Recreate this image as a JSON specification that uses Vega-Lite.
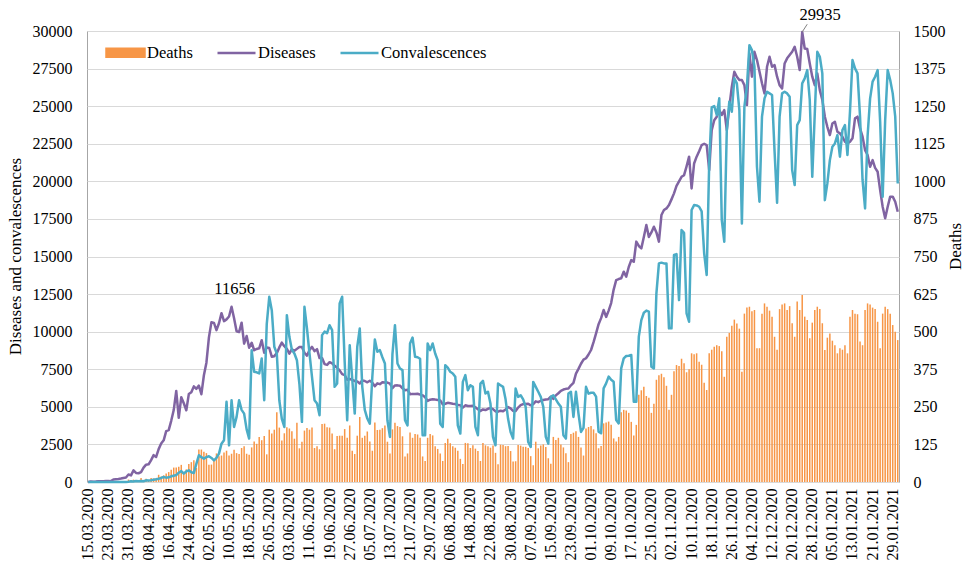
{
"$schema": "https://vega.github.io/schema/vega-lite/v6.json",
"width": 812, "height": 451,
"autosize": {"type": "none"},
"padding": {"left": 87, "top": 31, "right": 65, "bottom": 87},
"background": "white",
"config": {
 "view": {"stroke": "#a6a6a6", "strokeWidth": 1},
 "font": "Liberation Serif",
 "axis": {"labelFont": "Liberation Serif", "labelFontSize": 16, "labelColor": "#000", "titleFont": "Liberation Serif", "titleFontSize": 17, "titleFontWeight": "normal", "titleColor": "#000", "ticks": false, "tickSize": 0, "domain": false}
},
"data": {"values": [
{"d":"15.03.2020","dis":4,"con":0,"dea":0},{"d":"16.03.2020","dis":30,"con":0,"dea":0},{"d":"17.03.2020","dis":21,"con":0,"dea":0},{"d":"18.03.2020","dis":33,"con":0,"dea":0},{"d":"19.03.2020","dis":52,"con":1,"dea":1},{"d":"20.03.2020","dis":54,"con":2,"dea":0},{"d":"21.03.2020","dis":53,"con":3,"dea":0},{"d":"22.03.2020","dis":61,"con":1,"dea":0},{"d":"23.03.2020","dis":71,"con":2,"dea":0},{"d":"24.03.2020","dis":57,"con":5,"dea":1},{"d":"25.03.2020","dis":163,"con":2,"dea":0},{"d":"26.03.2020","dis":182,"con":8,"dea":1},{"d":"27.03.2020","dis":196,"con":3,"dea":1},{"d":"28.03.2020","dis":228,"con":5,"dea":0},{"d":"29.03.2020","dis":270,"con":8,"dea":1},{"d":"30.03.2020","dis":302,"con":8,"dea":1},{"d":"31.03.2020","dis":501,"con":22,"dea":8},
{"d":"01.04.2020","dis":440,"con":45,"dea":7},{"d":"02.04.2020","dis":771,"con":30,"dea":8},{"d":"03.04.2020","dis":601,"con":60,"dea":2},{"d":"04.04.2020","dis":582,"con":45,"dea":4},{"d":"05.04.2020","dis":658,"con":65,"dea":13},{"d":"06.04.2020","dis":954,"con":50,"dea":2},{"d":"07.04.2020","dis":1154,"con":110,"dea":11},{"d":"08.04.2020","dis":1175,"con":95,"dea":5},{"d":"09.04.2020","dis":1459,"con":120,"dea":13},{"d":"10.04.2020","dis":1786,"con":150,"dea":12},{"d":"11.04.2020","dis":1667,"con":180,"dea":12},{"d":"12.04.2020","dis":2186,"con":220,"dea":24},{"d":"13.04.2020","dis":2558,"con":270,"dea":18},{"d":"14.04.2020","dis":2774,"con":330,"dea":22},{"d":"15.04.2020","dis":3388,"con":290,"dea":28},{"d":"16.04.2020","dis":3448,"con":310,"dea":33},{"d":"17.04.2020","dis":4070,"con":380,"dea":41},{"d":"18.04.2020","dis":4785,"con":420,"dea":48},{"d":"19.04.2020","dis":6060,"con":460,"dea":48},{"d":"20.04.2020","dis":4268,"con":620,"dea":51},{"d":"21.04.2020","dis":5642,"con":730,"dea":57},{"d":"22.04.2020","dis":5236,"con":560,"dea":28},{"d":"23.04.2020","dis":4774,"con":700,"dea":42},{"d":"24.04.2020","dis":5849,"con":780,"dea":60},{"d":"25.04.2020","dis":5966,"con":650,"dea":66},{"d":"26.04.2020","dis":6361,"con":600,"dea":72},{"d":"27.04.2020","dis":6198,"con":1200,"dea":47},{"d":"28.04.2020","dis":6411,"con":1780,"dea":108},{"d":"29.04.2020","dis":5841,"con":1650,"dea":108},{"d":"30.04.2020","dis":7099,"con":1550,"dea":101},
{"d":"01.05.2020","dis":7933,"con":1650,"dea":96},{"d":"02.05.2020","dis":9623,"con":1710,"dea":57},{"d":"03.05.2020","dis":10633,"con":1600,"dea":58},{"d":"04.05.2020","dis":10581,"con":1440,"dea":76},{"d":"05.05.2020","dis":10102,"con":1600,"dea":95},{"d":"06.05.2020","dis":10559,"con":1890,"dea":86},{"d":"07.05.2020","dis":11231,"con":2550,"dea":88},{"d":"08.05.2020","dis":10699,"con":2780,"dea":98},{"d":"09.05.2020","dis":10817,"con":5330,"dea":104},{"d":"10.05.2020","dis":11012,"con":2440,"dea":88},{"d":"11.05.2020","dis":11656,"con":5440,"dea":94},{"d":"12.05.2020","dis":10899,"con":3660,"dea":107},{"d":"13.05.2020","dis":10028,"con":4330,"dea":96},{"d":"14.05.2020","dis":9974,"con":5440,"dea":93},{"d":"15.05.2020","dis":10598,"con":4800,"dea":113},{"d":"16.05.2020","dis":9200,"con":4550,"dea":119},{"d":"17.05.2020","dis":9709,"con":3500,"dea":94},{"d":"18.05.2020","dis":8926,"con":2890,"dea":91},{"d":"19.05.2020","dis":9263,"con":8770,"dea":115},{"d":"20.05.2020","dis":8764,"con":7330,"dea":135},{"d":"21.05.2020","dis":8849,"con":7300,"dea":127},{"d":"22.05.2020","dis":8894,"con":7220,"dea":150},{"d":"23.05.2020","dis":9434,"con":8210,"dea":139},{"d":"24.05.2020","dis":8599,"con":5440,"dea":153},{"d":"25.05.2020","dis":8946,"con":10500,"dea":92},{"d":"26.05.2020","dis":8915,"con":12320,"dea":174},{"d":"27.05.2020","dis":8338,"con":11430,"dea":161},{"d":"28.05.2020","dis":8371,"con":9000,"dea":174},{"d":"29.05.2020","dis":8572,"con":8550,"dea":232},{"d":"30.05.2020","dis":8952,"con":5440,"dea":181},{"d":"31.05.2020","dis":9268,"con":4200,"dea":138},
{"d":"01.06.2020","dis":9035,"con":3660,"dea":162},{"d":"02.06.2020","dis":8863,"con":11100,"dea":182},{"d":"03.06.2020","dis":8536,"con":9660,"dea":178},{"d":"04.06.2020","dis":8831,"con":8800,"dea":169},{"d":"05.06.2020","dis":8726,"con":8550,"dea":144},{"d":"06.06.2020","dis":8855,"con":8100,"dea":197},{"d":"07.06.2020","dis":8984,"con":6500,"dea":112},{"d":"08.06.2020","dis":8985,"con":4000,"dea":134},{"d":"09.06.2020","dis":8595,"con":11650,"dea":171},{"d":"10.06.2020","dis":8404,"con":10210,"dea":180},{"d":"11.06.2020","dis":8779,"con":8550,"dea":174},{"d":"12.06.2020","dis":8987,"con":7000,"dea":181},{"d":"13.06.2020","dis":8706,"con":5440,"dea":113},{"d":"14.06.2020","dis":8835,"con":5220,"dea":119},{"d":"15.06.2020","dis":8246,"con":4440,"dea":109},{"d":"16.06.2020","dis":8248,"con":9770,"dea":193},{"d":"17.06.2020","dis":7843,"con":10000,"dea":194},{"d":"18.06.2020","dis":7790,"con":9900,"dea":182},{"d":"19.06.2020","dis":7972,"con":10430,"dea":181},{"d":"20.06.2020","dis":7889,"con":10100,"dea":161},{"d":"21.06.2020","dis":7728,"con":6330,"dea":109},{"d":"22.06.2020","dis":7600,"con":6550,"dea":153},{"d":"23.06.2020","dis":7425,"con":11880,"dea":154},{"d":"24.06.2020","dis":7176,"con":12320,"dea":154},{"d":"25.06.2020","dis":7113,"con":8000,"dea":176},{"d":"26.06.2020","dis":6800,"con":4110,"dea":147},{"d":"27.06.2020","dis":6852,"con":9100,"dea":188},{"d":"28.06.2020","dis":6791,"con":6880,"dea":104},{"d":"29.06.2020","dis":6719,"con":4550,"dea":93},{"d":"30.06.2020","dis":6693,"con":8990,"dea":154},
{"d":"01.07.2020","dis":6556,"con":10210,"dea":216},{"d":"02.07.2020","dis":6760,"con":6330,"dea":147},{"d":"03.07.2020","dis":6718,"con":4800,"dea":154},{"d":"04.07.2020","dis":6632,"con":4220,"dea":168},{"d":"05.07.2020","dis":6736,"con":3880,"dea":135},{"d":"06.07.2020","dis":6611,"con":7000,"dea":104},{"d":"07.07.2020","dis":6368,"con":9480,"dea":198},{"d":"08.07.2020","dis":6562,"con":8660,"dea":173},{"d":"09.07.2020","dis":6509,"con":8770,"dea":174},{"d":"10.07.2020","dis":6635,"con":8300,"dea":179},{"d":"11.07.2020","dis":6615,"con":7880,"dea":188},{"d":"12.07.2020","dis":6611,"con":4110,"dea":134},{"d":"13.07.2020","dis":6537,"con":3000,"dea":95},{"d":"14.07.2020","dis":6248,"con":8500,"dea":175},{"d":"15.07.2020","dis":6422,"con":10430,"dea":197},{"d":"16.07.2020","dis":6428,"con":7880,"dea":186},{"d":"17.07.2020","dis":6406,"con":7550,"dea":183},{"d":"18.07.2020","dis":6234,"con":7440,"dea":152},{"d":"19.07.2020","dis":6109,"con":4110,"dea":85},{"d":"20.07.2020","dis":6139,"con":3770,"dea":95},{"d":"21.07.2020","dis":5842,"con":9210,"dea":165},{"d":"22.07.2020","dis":5862,"con":9610,"dea":147},{"d":"23.07.2020","dis":5848,"con":8330,"dea":160},{"d":"24.07.2020","dis":5871,"con":8300,"dea":158},{"d":"25.07.2020","dis":5811,"con":8200,"dea":147},{"d":"26.07.2020","dis":5765,"con":3110,"dea":85},{"d":"27.07.2020","dis":5635,"con":3110,"dea":70},{"d":"28.07.2020","dis":5395,"con":9210,"dea":147},{"d":"29.07.2020","dis":5475,"con":8770,"dea":160},{"d":"30.07.2020","dis":5509,"con":9210,"dea":155},{"d":"31.07.2020","dis":5482,"con":8550,"dea":119},
{"d":"01.08.2020","dis":5462,"con":8100,"dea":110},{"d":"02.08.2020","dis":5427,"con":3880,"dea":95},{"d":"03.08.2020","dis":5159,"con":3660,"dea":70},{"d":"04.08.2020","dis":5204,"con":7770,"dea":130},{"d":"05.08.2020","dis":5267,"con":7610,"dea":144},{"d":"06.08.2020","dis":5241,"con":7330,"dea":129},{"d":"07.08.2020","dis":5212,"con":7220,"dea":119},{"d":"08.08.2020","dis":5189,"con":7000,"dea":114},{"d":"09.08.2020","dis":5118,"con":3770,"dea":104},{"d":"10.08.2020","dis":5102,"con":3220,"dea":77},{"d":"11.08.2020","dis":4945,"con":6660,"dea":60},{"d":"12.08.2020","dis":5102,"con":7110,"dea":130},{"d":"13.08.2020","dis":5057,"con":6100,"dea":129},{"d":"14.08.2020","dis":5061,"con":6440,"dea":113},{"d":"15.08.2020","dis":5065,"con":6330,"dea":122},{"d":"16.08.2020","dis":4969,"con":3660,"dea":111},{"d":"17.08.2020","dis":4839,"con":3110,"dea":103},{"d":"18.08.2020","dis":4718,"con":6550,"dea":70},{"d":"19.08.2020","dis":4828,"con":6730,"dea":130},{"d":"20.08.2020","dis":4785,"con":5880,"dea":122},{"d":"21.08.2020","dis":4870,"con":6000,"dea":119},{"d":"22.08.2020","dis":4921,"con":5200,"dea":114},{"d":"23.08.2020","dis":4852,"con":3000,"dea":121},{"d":"24.08.2020","dis":4696,"con":2440,"dea":97},{"d":"25.08.2020","dis":4676,"con":6550,"dea":59},{"d":"26.08.2020","dis":4744,"con":6440,"dea":124},{"d":"27.08.2020","dis":4711,"con":6330,"dea":123},{"d":"28.08.2020","dis":4829,"con":5500,"dea":119},{"d":"29.08.2020","dis":4980,"con":4200,"dea":120},{"d":"30.08.2020","dis":4897,"con":3330,"dea":103},{"d":"31.08.2020","dis":4729,"con":2890,"dea":68},
{"d":"01.09.2020","dis":4729,"con":6220,"dea":69},{"d":"02.09.2020","dis":4952,"con":5660,"dea":123},{"d":"03.09.2020","dis":5110,"con":5770,"dea":121},{"d":"04.09.2020","dis":5185,"con":5500,"dea":117},{"d":"05.09.2020","dis":5195,"con":5000,"dea":117},{"d":"06.09.2020","dis":5205,"con":2660,"dea":113},{"d":"07.09.2020","dis":5099,"con":2330,"dea":86},{"d":"08.09.2020","dis":5185,"con":6660,"dea":56},{"d":"09.09.2020","dis":5363,"con":6330,"dea":134},{"d":"10.09.2020","dis":5310,"con":6000,"dea":112},{"d":"11.09.2020","dis":5406,"con":5660,"dea":121},{"d":"12.09.2020","dis":5449,"con":5000,"dea":125},{"d":"13.09.2020","dis":5488,"con":3000,"dea":116},{"d":"14.09.2020","dis":5509,"con":2550,"dea":79},{"d":"15.09.2020","dis":5670,"con":5660,"dea":61},{"d":"16.09.2020","dis":5529,"con":5770,"dea":150},{"d":"17.09.2020","dis":5762,"con":5500,"dea":140},{"d":"18.09.2020","dis":5905,"con":5220,"dea":147},{"d":"19.09.2020","dis":6065,"con":5000,"dea":125},{"d":"20.09.2020","dis":6148,"con":3110,"dea":115},{"d":"21.09.2020","dis":6196,"con":2890,"dea":96},{"d":"22.09.2020","dis":6215,"con":5880,"dea":66},{"d":"23.09.2020","dis":6431,"con":6000,"dea":160},{"d":"24.09.2020","dis":6595,"con":4330,"dea":164},{"d":"25.09.2020","dis":7212,"con":6000,"dea":169},{"d":"26.09.2020","dis":7523,"con":4550,"dea":150},{"d":"27.09.2020","dis":7867,"con":3330,"dea":115},{"d":"28.09.2020","dis":8135,"con":3600,"dea":88},{"d":"29.09.2020","dis":8232,"con":6330,"dea":178},{"d":"30.09.2020","dis":8481,"con":5880,"dea":183},
{"d":"01.10.2020","dis":8780,"con":5940,"dea":186},{"d":"02.10.2020","dis":9300,"con":5940,"dea":175},{"d":"03.10.2020","dis":9890,"con":5680,"dea":162},{"d":"04.10.2020","dis":10500,"con":3350,"dea":112},{"d":"05.10.2020","dis":10900,"con":3240,"dea":120},{"d":"06.10.2020","dis":11440,"con":6230,"dea":195},{"d":"07.10.2020","dis":10980,"con":6560,"dea":198},{"d":"08.10.2020","dis":11400,"con":7010,"dea":201},{"d":"09.10.2020","dis":11900,"con":6800,"dea":190},{"d":"10.10.2020","dis":12800,"con":6670,"dea":145},{"d":"11.10.2020","dis":13430,"con":4120,"dea":135},{"d":"12.10.2020","dis":13500,"con":3900,"dea":150},{"d":"13.10.2020","dis":13550,"con":7560,"dea":232},{"d":"14.10.2020","dis":13990,"con":8220,"dea":240},{"d":"15.10.2020","dis":13660,"con":8380,"dea":238},{"d":"16.10.2020","dis":14300,"con":8400,"dea":230},{"d":"17.10.2020","dis":14760,"con":8450,"dea":200},{"d":"18.10.2020","dis":14650,"con":5340,"dea":155},{"d":"19.10.2020","dis":15990,"con":5340,"dea":190},{"d":"20.10.2020","dis":15700,"con":9670,"dea":290},{"d":"21.10.2020","dis":15540,"con":10770,"dea":305},{"d":"22.10.2020","dis":16300,"con":11260,"dea":317},{"d":"23.10.2020","dis":17090,"con":11400,"dea":286},{"d":"24.10.2020","dis":16300,"con":11330,"dea":280},{"d":"25.10.2020","dis":16600,"con":7670,"dea":230},{"d":"26.10.2020","dis":16980,"con":7560,"dea":260},{"d":"27.10.2020","dis":16600,"con":12550,"dea":340},{"d":"28.10.2020","dis":15990,"con":14540,"dea":355},{"d":"29.10.2020","dis":17760,"con":14590,"dea":360},{"d":"30.10.2020","dis":18090,"con":14540,"dea":348},{"d":"31.10.2020","dis":18200,"con":14540,"dea":320},
{"d":"01.11.2020","dis":18420,"con":10220,"dea":240},{"d":"02.11.2020","dis":18800,"con":10220,"dea":290},{"d":"03.11.2020","dis":19200,"con":15100,"dea":368},{"d":"04.11.2020","dis":19700,"con":15160,"dea":389},{"d":"05.11.2020","dis":20000,"con":12100,"dea":386},{"d":"06.11.2020","dis":20300,"con":16760,"dea":410},{"d":"07.11.2020","dis":20410,"con":16580,"dea":395},{"d":"08.11.2020","dis":21000,"con":11220,"dea":365},{"d":"09.11.2020","dis":21640,"con":10660,"dea":375},{"d":"10.11.2020","dis":19530,"con":18090,"dea":428},{"d":"11.11.2020","dis":21190,"con":18420,"dea":425},{"d":"12.11.2020","dis":21640,"con":18400,"dea":428},{"d":"13.11.2020","dis":22000,"con":18310,"dea":400},{"d":"14.11.2020","dis":22410,"con":18000,"dea":390},{"d":"15.11.2020","dis":22500,"con":15210,"dea":330},{"d":"16.11.2020","dis":22410,"con":13770,"dea":306},{"d":"17.11.2020","dis":20750,"con":21190,"dea":428},{"d":"18.11.2020","dis":23410,"con":24920,"dea":440},{"d":"19.11.2020","dis":24070,"con":25010,"dea":450},{"d":"20.11.2020","dis":24300,"con":24410,"dea":455},{"d":"21.11.2020","dis":24740,"con":25520,"dea":452},{"d":"22.11.2020","dis":24410,"con":17430,"dea":435},{"d":"23.11.2020","dis":24740,"con":15980,"dea":350},{"d":"24.11.2020","dis":23410,"con":23410,"dea":483},{"d":"25.11.2020","dis":24960,"con":25300,"dea":496},{"d":"26.11.2020","dis":26290,"con":24630,"dea":520},{"d":"27.11.2020","dis":27290,"con":26850,"dea":540},{"d":"28.11.2020","dis":26960,"con":26520,"dea":527},{"d":"29.11.2020","dis":26740,"con":24740,"dea":510},{"d":"30.11.2020","dis":26740,"con":17200,"dea":367},
{"d":"01.12.2020","dis":26400,"con":24960,"dea":560},{"d":"02.12.2020","dis":25070,"con":26290,"dea":580},{"d":"03.12.2020","dis":28510,"con":29060,"dea":583},{"d":"04.12.2020","dis":26960,"con":28730,"dea":568},{"d":"05.12.2020","dis":28620,"con":27620,"dea":572},{"d":"06.12.2020","dis":28070,"con":20970,"dea":445},{"d":"07.12.2020","dis":27300,"con":18640,"dea":445},{"d":"08.12.2020","dis":26520,"con":24300,"dea":560},{"d":"09.12.2020","dis":25850,"con":25520,"dea":594},{"d":"10.12.2020","dis":27620,"con":25960,"dea":583},{"d":"11.12.2020","dis":28290,"con":25850,"dea":570},{"d":"12.12.2020","dis":27620,"con":25740,"dea":550},{"d":"13.12.2020","dis":27730,"con":22000,"dea":483},{"d":"14.12.2020","dis":26960,"con":18580,"dea":440},{"d":"15.12.2020","dis":26400,"con":24300,"dea":575},{"d":"16.12.2020","dis":26180,"con":25850,"dea":590},{"d":"17.12.2020","dis":27840,"con":25960,"dea":594},{"d":"18.12.2020","dis":28180,"con":25850,"dea":572},{"d":"19.12.2020","dis":28400,"con":25630,"dea":585},{"d":"20.12.2020","dis":28620,"con":20750,"dea":528},{"d":"21.12.2020","dis":28950,"con":19750,"dea":483},{"d":"22.12.2020","dis":28290,"con":23740,"dea":600},{"d":"23.12.2020","dis":27400,"con":24070,"dea":572},{"d":"24.12.2020","dis":29935,"con":26520,"dea":622},{"d":"25.12.2020","dis":28840,"con":26850,"dea":550},{"d":"26.12.2020","dis":28800,"con":27400,"dea":539},{"d":"27.12.2020","dis":27840,"con":25410,"dea":478},{"d":"28.12.2020","dis":26960,"con":20310,"dea":530},{"d":"29.12.2020","dis":26400,"con":24520,"dea":572},{"d":"30.12.2020","dis":27180,"con":28620,"dea":583},{"d":"31.12.2020","dis":26070,"con":28290,"dea":575},
{"d":"01.01.2021","dis":25410,"con":27180,"dea":528},{"d":"02.01.2021","dis":24300,"con":18750,"dea":439},{"d":"03.01.2021","dis":23630,"con":19860,"dea":480},{"d":"04.01.2021","dis":23080,"con":21410,"dea":494},{"d":"05.01.2021","dis":23850,"con":22300,"dea":470},{"d":"06.01.2021","dis":23960,"con":22520,"dea":455},{"d":"07.01.2021","dis":23300,"con":23080,"dea":428},{"d":"08.01.2021","dis":23190,"con":21640,"dea":445},{"d":"09.01.2021","dis":22970,"con":23410,"dea":440},{"d":"10.01.2021","dis":22630,"con":23740,"dea":455},{"d":"11.01.2021","dis":22520,"con":21750,"dea":428},{"d":"12.01.2021","dis":22630,"con":24630,"dea":550},{"d":"13.01.2021","dis":22860,"con":28070,"dea":572},{"d":"14.01.2021","dis":24190,"con":27510,"dea":560},{"d":"15.01.2021","dis":24300,"con":27180,"dea":558},{"d":"16.01.2021","dis":23520,"con":24300,"dea":467},{"d":"17.01.2021","dis":22970,"con":20090,"dea":455},{"d":"18.01.2021","dis":22080,"con":18200,"dea":572},{"d":"19.01.2021","dis":21750,"con":23000,"dea":594},{"d":"20.01.2021","dis":20970,"con":25500,"dea":590},{"d":"21.01.2021","dis":21410,"con":26630,"dea":580},{"d":"22.01.2021","dis":20900,"con":26960,"dea":575},{"d":"23.01.2021","dis":20640,"con":27400,"dea":533},{"d":"24.01.2021","dis":19420,"con":23960,"dea":445},{"d":"25.01.2021","dis":18310,"con":18980,"dea":560},{"d":"26.01.2021","dis":17540,"con":24070,"dea":583},{"d":"27.01.2021","dis":18310,"con":27400,"dea":575},{"d":"28.01.2021","dis":18980,"con":26740,"dea":560},{"d":"29.01.2021","dis":18980,"con":25850,"dea":522},{"d":"30.01.2021","dis":18640,"con":24300,"dea":500},{"d":"31.01.2021","dis":17980,"con":19860,"dea":472}
]},
"encoding": {
 "x": {"field": "d", "type": "ordinal", "sort": null,
  "scale": {"paddingInner": 0.4, "paddingOuter": 0.2},
  "axis": {"title": null, "labelAngle": -90, "labelPadding": 6, "grid": false,
   "values": ["15.03.2020","23.03.2020","31.03.2020","08.04.2020","16.04.2020","24.04.2020","02.05.2020","10.05.2020","18.05.2020","26.05.2020","03.06.2020","11.06.2020","19.06.2020","27.06.2020","05.07.2020","13.07.2020","21.07.2020","29.07.2020","06.08.2020","14.08.2020","22.08.2020","30.08.2020","07.09.2020","15.09.2020","23.09.2020","01.10.2020","09.10.2020","17.10.2020","25.10.2020","02.11.2020","10.11.2020","18.11.2020","26.11.2020","04.12.2020","12.12.2020","20.12.2020","28.12.2020","05.01.2021","13.01.2021","21.01.2021","29.01.2021"]}}
},
"layer": [
 {"mark": {"type": "bar"},
  "encoding": {
   "y": {"field": "dea", "type": "quantitative", "scale": {"domain": [0, 1500], "nice": false},
    "axis": {"orient": "right", "title": "Deaths", "grid": false, "format": "d", "labelPadding": 14, "values": [0,125,250,375,500,625,750,875,1000,1125,1250,1375,1500], "titleX": 56, "titleY": 215, "titleAngle": -90, "titleAlign": "center", "titleBaseline": "middle"}},
   "color": {"datum": "Deaths", "type": "nominal",
    "scale": {"domain": ["Deaths", "Diseases", "Convalescences"], "range": ["#f79646", "#8064a2", "#4bacc6"]},
    "legend": {"title": null, "orient": "none", "legendX": 18, "legendY": 1, "direction": "horizontal",
     "symbolSize": 1444, "symbolType": "stroke", "symbolStrokeWidth": 2.5,
     "labelFont": "Liberation Serif", "labelFontSize": 16.5, "labelColor": "#000", "labelOffset": 1, "columnPadding": 19,
     "encode": {"symbols": {"update": {
       "shape": {"signal": "datum.value === 'Deaths' ? 'M-1,-0.21H1V0.21H-1Z' : 'stroke'"},
       "fill": {"signal": "datum.value === 'Deaths' ? '#f79646' : 'transparent'"},
       "stroke": {"signal": "datum.value === 'Deaths' ? 'transparent' : (datum.value === 'Diseases' ? '#8064a2' : '#4bacc6')"},
       "strokeWidth": {"value": 2.5},
       "opacity": {"value": 1}}}}}}
  }},
 {"encoding": {
   "y": {"field": "dis", "type": "quantitative", "scale": {"domain": [0, 30000], "nice": false},
    "axis": {"orient": "left", "title": "Diseases and convalescences", "format": "d", "grid": true, "gridColor": "#d9d9d9", "gridWidth": 1, "labelPadding": 15, "values": [0,2500,5000,7500,10000,12500,15000,17500,20000,22500,25000,27500,30000], "titleX": -72, "titleY": 225, "titleAngle": -90, "titleAlign": "center", "titleBaseline": "middle"}}},
  "layer": [
   {"mark": {"type": "line", "strokeWidth": 2.5, "strokeJoin": "round"},
    "encoding": {"color": {"datum": "Diseases", "type": "nominal"}}},
   {"mark": {"type": "line", "strokeWidth": 2.5, "strokeJoin": "round"},
    "encoding": {
     "y": {"field": "con", "type": "quantitative", "scale": {"domain": [0, 30000], "nice": false},
      "axis": {"orient": "left", "title": "Diseases and convalescences", "format": "d", "grid": true, "gridColor": "#d9d9d9", "gridWidth": 1, "labelPadding": 15, "values": [0,2500,5000,7500,10000,12500,15000,17500,20000,22500,25000,27500,30000], "titleX": -72, "titleY": 225, "titleAngle": -90, "titleAlign": "center", "titleBaseline": "middle"}},
     "color": {"datum": "Convalescences", "type": "nominal"}}},
   {"transform": [{"filter": "datum.dis === 11656"}],
    "mark": {"type": "text", "font": "Liberation Serif", "fontSize": 16.5, "color": "#000", "dx": 3, "dy": -18, "baseline": "middle", "align": "center"},
    "encoding": {"text": {"field": "dis", "type": "quantitative", "format": "d"}}},
   {"transform": [{"filter": "datum.dis === 29935"}],
    "mark": {"type": "text", "font": "Liberation Serif", "fontSize": 16.5, "color": "#000", "dx": 18, "dy": -17, "baseline": "middle", "align": "center"},
    "encoding": {"text": {"field": "dis", "type": "quantitative", "format": "d"}}},
   {"transform": [{"filter": "datum.dis === 29935"}],
    "mark": {"type": "rule", "color": "#808080", "strokeWidth": 1, "x2Offset": 5},
    "encoding": {"y2": {"datum": 30450}, "x2": {"field": "d"}}}
  ]}
],
"resolve": {"scale": {"y": "independent"}}
}
